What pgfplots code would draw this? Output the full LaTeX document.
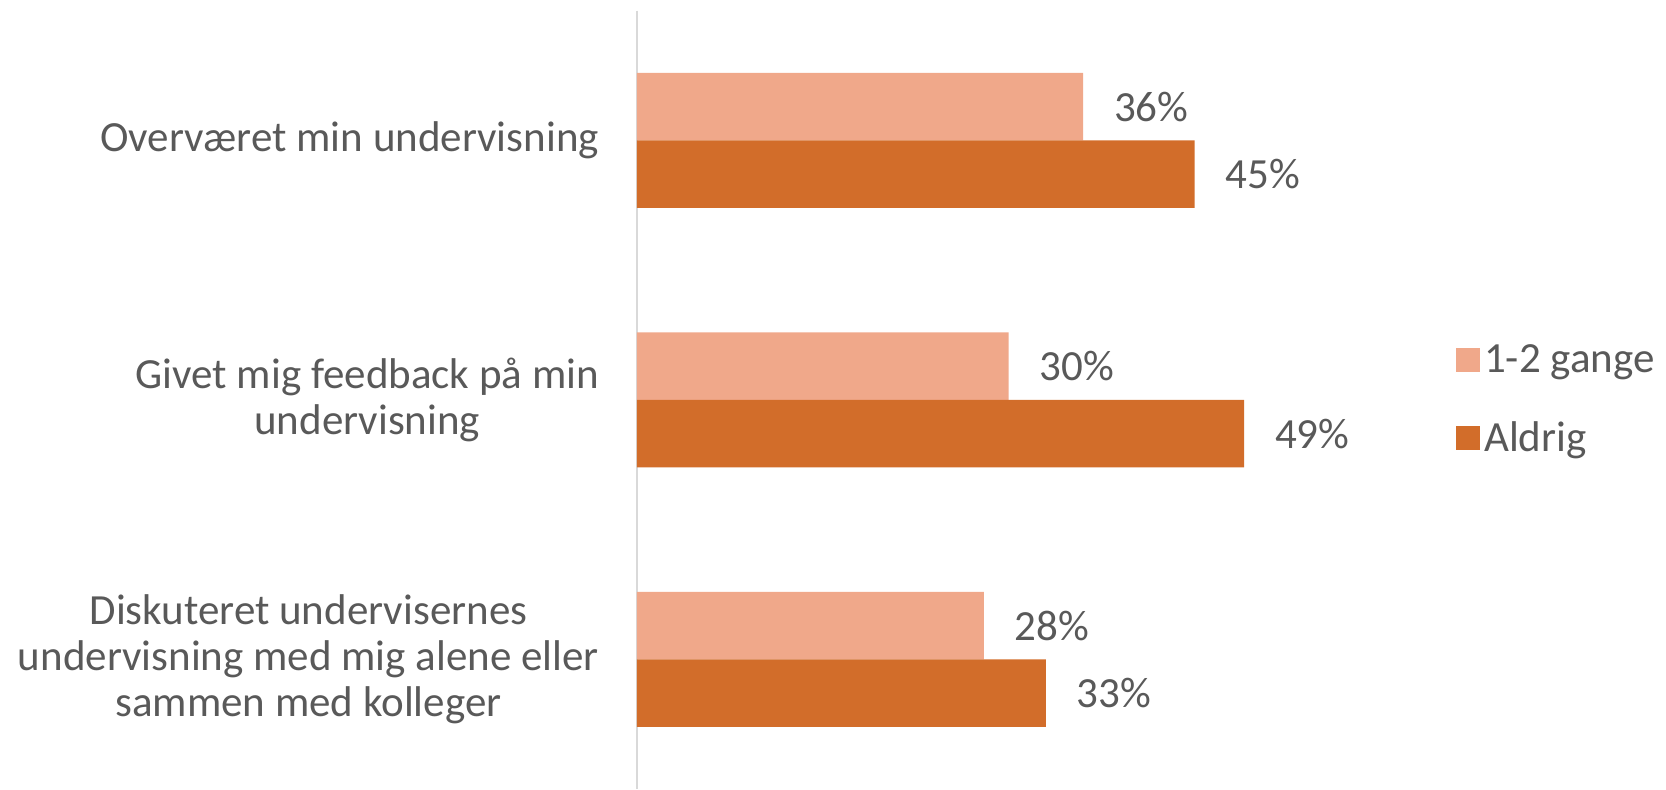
\documentclass[border=0pt]{standalone}
\usepackage{pgfplots}
\pgfplotsset{compat=1.18}
\usepackage{fontspec}
\setmainfont{Carlito}
\definecolor{lys}{HTML}{F0A88A}
\definecolor{mork}{HTML}{D26D2A}
\definecolor{tekst}{HTML}{595959}
\definecolor{akse}{HTML}{D9D9D9}

\begin{document}
\begin{tikzpicture}
\begin{axis}[
    at={(318.5pt,0pt)}, anchor=south west,
    scale only axis,
    width=384.1pt, height=389.25pt,
    xbar, bar width=33.75pt,
    xmin=0, xmax=62,
    ymin=-0.5, ymax=2.5, y dir=reverse,
    axis x line=none,
    axis y line*=left,
    y axis line style={draw=akse, line width=1.3pt, -},
    ytick={0,1,2},
    yticklabels={Overværet min undervisning,
                 {Givet mig feedback på min\\undervisning},
                 {Diskuteret undervisernes\\undervisning med mig alene eller\\sammen med kolleger}},
    major tick length=0pt,
    yticklabel style={align=center, font=\fontsize{21.5}{23.1}\selectfont, text=tekst, xshift=-15.5pt},
    /pgf/number format/assume math mode=true,
    nodes near coords={\pgfmathprintnumber{\pgfplotspointmeta}\%},
    nodes near coords style={anchor=west, xshift=12pt, font=\fontsize{21.5}{23.1}\selectfont, text=tekst},
    legend style={at={(1.058,0.5)}, anchor=west, draw=none, fill=none,
        font=\fontsize{21.5}{23.1}\selectfont, text=tekst, row sep=19pt,
        legend cell align=left},
    legend image code/.code={\fill[#1] (0pt,-6pt) rectangle (12pt,6pt);},
  ]
\addplot+[draw=none, fill=lys, bar shift=16.875pt] coordinates {(36,0) (30,1) (28,2)};
\addplot+[draw=none, fill=mork, bar shift=-16.875pt] coordinates {(45,0) (49,1) (33,2)};
\legend{1-2 gange, Aldrig}
\end{axis}
\pgfresetboundingbox
\useasboundingbox (0,0) rectangle (833pt,394.5pt);
\end{tikzpicture}
\end{document}
